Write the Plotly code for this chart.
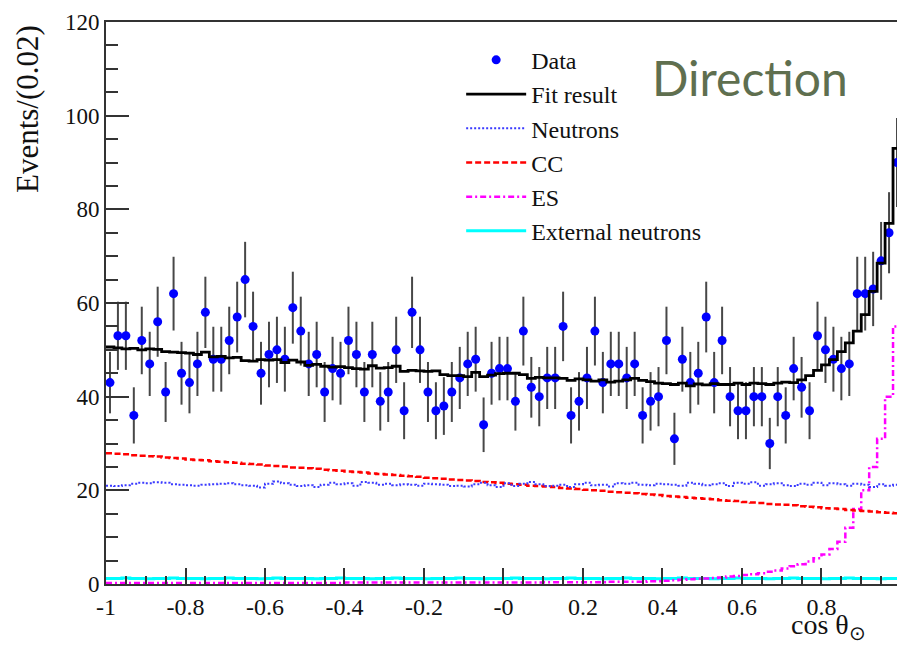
import numpy as np
import plotly.graph_objects as go

# ---------------- data ----------------
bin_width = 0.02
n_bins = 100
x_min, x_max = -1.0, 1.0

data_counts = [
    43, 53, 53, 36, 52, 47, 56, 41, 62, 45,
    43, 47, 58, 48, 48, 52, 57, 65, 55, 45,
    49, 50, 48, 59, 54, 47, 49, 41, 46, 45,
    52, 49, 41, 49, 39, 41, 50, 37, 58, 50,
    41, 37, 38, 41, 44, 47, 48, 34, 45, 46,
    46, 39, 54, 42, 40, 44, 44, 55, 36, 39,
    44, 54, 43, 47, 47, 44, 47, 36, 39, 40,
    52, 31, 48, 43, 45, 57, 43, 52, 40, 37,
    37, 40, 40, 30, 40, 36, 46, 42, 37, 53,
    50, 48, 46, 47, 62, 62, 63, 69, 75, 90,
]

fit_result = [
    50.6, 50.4, 50.2, 50.3, 50.0, 50.2, 50.1, 49.6, 49.5, 49.4,
    49.3, 49.0, 49.5, 48.5, 48.6, 48.3, 48.4, 47.7, 47.6, 47.9,
    47.8, 47.9, 47.3, 47.8, 47.4, 46.7, 46.9, 46.5, 46.3, 46.4,
    46.2, 46.0, 45.9, 46.6, 46.1, 46.2, 46.5, 45.4, 45.6, 45.5,
    45.4, 45.5, 44.7, 44.5, 44.5, 44.3, 45.2, 44.3, 44.6, 44.9,
    45.0, 45.0, 44.7, 43.9, 44.1, 44.0, 44.0, 43.9, 43.5, 43.8,
    43.6, 43.3, 43.6, 43.1, 43.3, 43.6, 43.9, 43.5, 43.2, 42.9,
    42.8, 42.6, 42.9, 42.3, 42.7, 42.5, 42.8, 42.6, 42.6, 42.9,
    42.6, 42.9, 42.8, 42.6, 42.9, 43.1, 43.0, 43.6, 44.5, 45.6,
    46.8, 47.9, 49.6, 51.5, 54.0, 57.5, 62.5, 68.5, 77.0, 93.0,
]

neutrons = [
    21.0, 20.9, 21.1, 21.4, 21.6, 21.5, 21.7, 21.6, 21.3, 21.2,
    21.1, 21.0, 21.2, 21.3, 21.4, 21.5, 21.3, 21.1, 21.0, 20.6,
    21.4, 21.9, 21.5, 21.2, 20.9, 21.1, 20.7, 21.2, 21.6, 21.3,
    21.5, 21.0, 21.8, 21.6, 21.2, 21.4, 21.1, 21.3, 21.2, 21.0,
    21.4, 21.3, 21.2, 20.9, 21.0, 20.8, 21.3, 21.6, 21.1, 20.7,
    21.5, 20.9, 21.4, 21.8, 21.3, 20.9, 21.0, 21.2, 20.7, 21.3,
    21.6, 21.1, 21.2, 20.8, 21.5, 21.4, 21.6, 21.2, 21.1, 21.4,
    21.3, 21.2, 21.0, 21.6, 21.4, 21.1, 21.3, 21.5, 20.9, 21.6,
    21.4, 21.7, 21.0, 21.3, 21.5, 21.1, 20.9, 21.4, 21.2, 21.6,
    21.1, 21.5, 21.3, 21.0, 21.4, 21.2, 20.7, 21.3, 21.0, 21.2,
]

cc = [
    27.9, 27.8, 27.7, 27.5, 27.4, 27.3, 27.2, 27.0, 26.9, 26.8,
    26.6, 26.5, 26.4, 26.2, 26.1, 26.0, 25.9, 25.7, 25.6, 25.5,
    25.3, 25.2, 25.1, 24.9, 24.8, 24.7, 24.6, 24.4, 24.3, 24.2,
    24.0, 23.9, 23.8, 23.6, 23.5, 23.4, 23.3, 23.1, 23.0, 22.9,
    22.7, 22.6, 22.5, 22.3, 22.2, 22.1, 22.0, 21.8, 21.7, 21.6,
    21.4, 21.3, 21.2, 21.0, 20.9, 20.8, 20.7, 20.5, 20.4, 20.3,
    20.1, 20.0, 19.9, 19.7, 19.6, 19.5, 19.4, 19.2, 19.1, 19.0,
    18.8, 18.7, 18.6, 18.4, 18.3, 18.2, 18.1, 17.9, 17.8, 17.7,
    17.5, 17.4, 17.3, 17.1, 17.0, 16.9, 16.8, 16.6, 16.5, 16.4,
    16.2, 16.1, 16.0, 15.8, 15.7, 15.6, 15.5, 15.3, 15.2, 15.1,
]

es = [
    0.2, 0.2, 0.2, 0.2, 0.2, 0.2, 0.2, 0.2, 0.2, 0.2,
    0.2, 0.2, 0.2, 0.2, 0.2, 0.2, 0.2, 0.2, 0.2, 0.2,
    0.2, 0.2, 0.2, 0.2, 0.2, 0.2, 0.2, 0.2, 0.2, 0.2,
    0.3, 0.3, 0.3, 0.3, 0.3, 0.3, 0.3, 0.3, 0.3, 0.3,
    0.3, 0.3, 0.3, 0.3, 0.3, 0.3, 0.3, 0.3, 0.3, 0.3,
    0.3, 0.3, 0.3, 0.3, 0.3, 0.4, 0.4, 0.4, 0.4, 0.4,
    0.4, 0.4, 0.4, 0.5, 0.5, 0.5, 0.5, 0.5, 0.6, 0.6,
    0.7, 0.8, 0.9, 1.0, 1.1, 1.2, 1.3, 1.4, 1.6, 1.7,
    1.9, 2.1, 2.3, 2.6, 2.9, 3.3, 3.8, 4.2, 4.8, 5.5,
    6.3, 7.5, 9.0, 12.0, 16.0, 20.0, 25.0, 31.0, 40.0, 55.0,
]

external_neutrons = [
    1.2, 1.2, 1.3, 1.2, 1.2, 1.1, 1.2, 1.2, 1.3, 1.2,
    1.2, 1.2, 1.1, 1.2, 1.2, 1.3, 1.2, 1.2, 1.2, 1.1,
    1.2, 1.3, 1.2, 1.2, 1.2, 1.2, 1.1, 1.2, 1.2, 1.3,
    1.2, 1.2, 1.2, 1.1, 1.2, 1.2, 1.3, 1.2, 1.2, 1.2,
    1.1, 1.2, 1.2, 1.2, 1.3, 1.2, 1.2, 1.1, 1.2, 1.2,
    1.2, 1.3, 1.2, 1.2, 1.2, 1.1, 1.2, 1.2, 1.3, 1.2,
    1.2, 1.2, 1.1, 1.2, 1.2, 1.3, 1.2, 1.2, 1.2, 1.1,
    1.2, 1.2, 1.3, 1.2, 1.2, 1.2, 1.1, 1.2, 1.2, 1.3,
    1.2, 1.2, 1.2, 1.1, 1.2, 1.2, 1.3, 1.2, 1.2, 1.2,
    1.1, 1.2, 1.2, 1.3, 1.2, 1.2, 1.2, 1.1, 1.2, 1.2,
]

x_tick_vals = [-1, -0.8, -0.6, -0.4, -0.2, 0, 0.2, 0.4, 0.6, 0.8]
x_tick_text = ["-1", "-0.8", "-0.6", "-0.4", "-0.2", "-0", "0.2", "0.4", "0.6", "0.8"]
y_tick_vals = [0, 20, 40, 60, 80, 100, 120]

# ---------------- derived geometry ----------------
edges = np.linspace(x_min, x_max, n_bins + 1)
centers = 0.5 * (edges[:-1] + edges[1:])
errors = np.sqrt(np.array(data_counts, dtype=float))


def step_y(vals):
    return list(vals) + [vals[-1]]


SERIF = "Liberation Serif, Times New Roman, serif"

fig = go.Figure()

fig.add_trace(go.Scatter(
    x=edges, y=step_y(external_neutrons), mode="lines", line_shape="hv",
    line=dict(color="#00ffff", width=3),
    name="External neutrons", legendrank=6, legendgroup="g6"))
fig.add_trace(go.Scatter(
    x=edges, y=step_y(es), mode="lines", line_shape="hv",
    line=dict(color="#ff00ff", width=2.5, dash="6px,3px,2px,3px"),
    name="ES", legendrank=5, legendgroup="g5"))
fig.add_trace(go.Scatter(
    x=edges, y=step_y(cc), mode="lines", line_shape="hv",
    line=dict(color="#ff0000", width=2.5, dash="6px,3px"),
    name="CC", legendrank=4, legendgroup="g4"))
fig.add_trace(go.Scatter(
    x=edges, y=step_y(neutrons), mode="lines", line_shape="hv",
    line=dict(color="#3a3aff", width=2, dash="2px,2px"),
    name="Neutrons", legendrank=3, legendgroup="g3"))
fig.add_trace(go.Scatter(
    x=centers, y=data_counts, mode="markers",
    marker=dict(color="#0000ff", size=9),
    error_y=dict(type="data", array=errors, visible=True,
                 color="#474747", thickness=2, width=0),
    name="Data", legendrank=1, legendgroup="g1"))
fig.add_trace(go.Scatter(
    x=edges, y=step_y(fit_result), mode="lines", line_shape="hv",
    line=dict(color="#000000", width=2.8),
    name="Fit result", legendrank=2, legendgroup="g2"))

axis_col = "#333333"
fig.update_xaxes(
    range=[-1.0, 0.99], showgrid=False, zeroline=False,
    showline=True, linecolor=axis_col, linewidth=2, mirror=True,
    ticks="inside", ticklen=16, tickwidth=1.5, tickcolor=axis_col,
    tickvals=x_tick_vals, ticktext=x_tick_text,
    tickfont=dict(family=SERIF, size=24, color="#111111"),
    minor=dict(ticks="inside", ticklen=8, tickwidth=1.5, tickcolor=axis_col, dtick=0.05, tick0=-1),
)
fig.update_yaxes(
    range=[0, 120], showgrid=False, zeroline=False,
    showline=True, linecolor=axis_col, linewidth=2, mirror=False,
    ticks="inside", ticklen=23, tickwidth=1.5, tickcolor=axis_col,
    tickvals=y_tick_vals,
    tickfont=dict(family=SERIF, size=23, color="#111111"),
    minor=dict(ticks="inside", ticklen=12, tickwidth=1.5, tickcolor=axis_col, dtick=5),
)

fig.update_layout(
    width=897, height=648,
    margin=dict(l=106, r=0, t=22, b=64),
    paper_bgcolor="white", plot_bgcolor="white",
    showlegend=True,
    legend=dict(x=0.449, y=0.972, xanchor="left", yanchor="top",
                bgcolor="rgba(0,0,0,0)", borderwidth=0,
                font=dict(family=SERIF, size=24, color="#111111"),
                tracegroupgap=0, itemwidth=60),
    annotations=[
        dict(text="Direction", xref="paper", yref="paper", x=0.814, y=0.902,
             xanchor="center", yanchor="middle", showarrow=False,
             font=dict(family="Lato, Open Sans, sans-serif", size=48, color="#5f6f4f")),
        dict(text="Events/(0.02)", xref="paper", yref="paper", x=-0.1, y=0.845,
             xanchor="center", yanchor="middle", showarrow=False, textangle=-90,
             font=dict(family=SERIF, size=31, color="#111111")),
        dict(text="cos θ<sub>⊙</sub>", xref="paper", yref="paper", x=0.962, y=-0.109,
             xanchor="right", yanchor="bottom", showarrow=False, borderpad=0,
             font=dict(family=SERIF, size=28, color="#111111")),
    ],
)

fig.write_html("out.html")
